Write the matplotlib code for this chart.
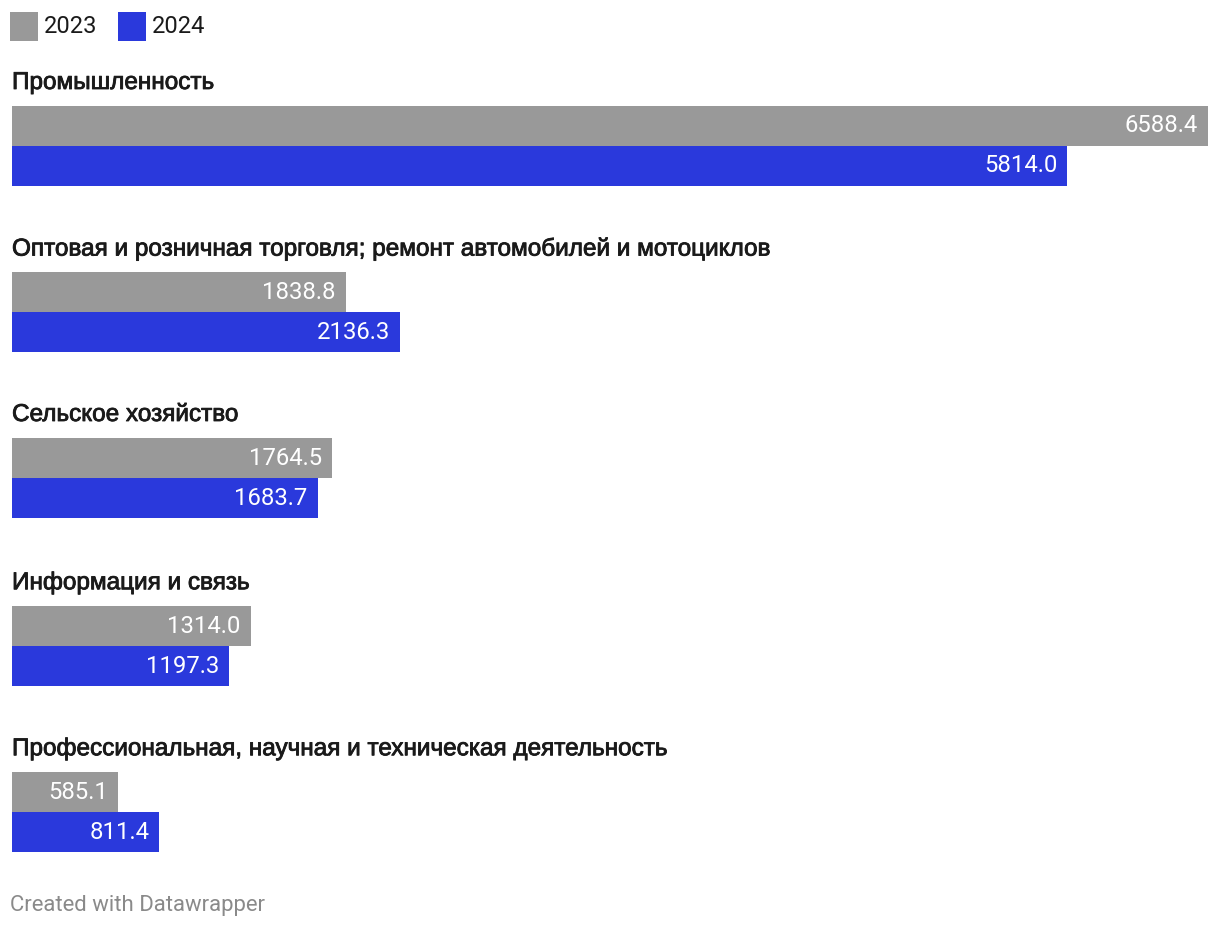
import matplotlib
matplotlib.use("Agg")
import matplotlib.pyplot as plt
from matplotlib.patches import Rectangle
import matplotlib.patheffects as pe

categories = [
    "Промышленность",
    "Оптовая и розничная торговля; ремонт автомобилей и мотоциклов",
    "Сельское хозяйство",
    "Информация и связь",
    "Профессиональная, научная и техническая деятельность",
]
values_2023 = [6588.4, 1838.8, 1764.5, 1314.0, 585.1]
values_2024 = [5814.0, 2136.3, 1683.7, 1197.3, 811.4]
series_names = ["2023", "2024"]
colors = ["#999999", "#2a39dc"]

W, H = 1220, 930
fig = plt.figure(figsize=(W / 100, H / 100), dpi=100)
ax = fig.add_axes([0, 0, 1, 1])
ax.set_axis_off()

x0_px, x1_px = 12, 1208
vmax = max(values_2023 + values_2024)
scale = (x1_px - x0_px) / vmax
ax.set_xlim(-x0_px / scale, (W - x0_px) / scale)
ax.set_ylim(H, 0)

font = "Roboto"
bar_h = 40
group_tops = [106, 272, 438, 606, 772]
label_offset = 23

for i, cat in enumerate(categories):
    top = group_tops[i]
    ax.text(0, top - label_offset, cat, fontsize=17.5,
            family="Liberation Sans", color="#1a1a1a", va="center", ha="left",
            path_effects=[pe.withStroke(linewidth=0.6, foreground="#1a1a1a")])
    for j, vals in enumerate([values_2023, values_2024]):
        yc = top + bar_h * j + bar_h / 2
        ax.barh(yc, vals[i], height=bar_h, left=0, color=colors[j], linewidth=0)
        ax.text(vals[i] - 10 / scale, yc, f"{vals[i]:.1f}", fontsize=17.2,
                family=font, color="white", va="center", ha="right")

lx = 10
for name, c in zip(series_names, colors):
    ax.add_patch(Rectangle((lx / scale - x0_px / scale, 12), 28 / scale, 29,
                           facecolor=c, edgecolor="none"))
    ax.text((lx + 34) / scale - x0_px / scale, 26.5, name, fontsize=17,
            family=font, color="#1a1a1a", va="center", ha="left")
    lx += 108

ax.text(-2 / scale, 905, "Created with Datawrapper", fontsize=15.9,
        family=font, color="#8a8a8a", va="center", ha="left")

fig.savefig("out.png", dpi=100)
